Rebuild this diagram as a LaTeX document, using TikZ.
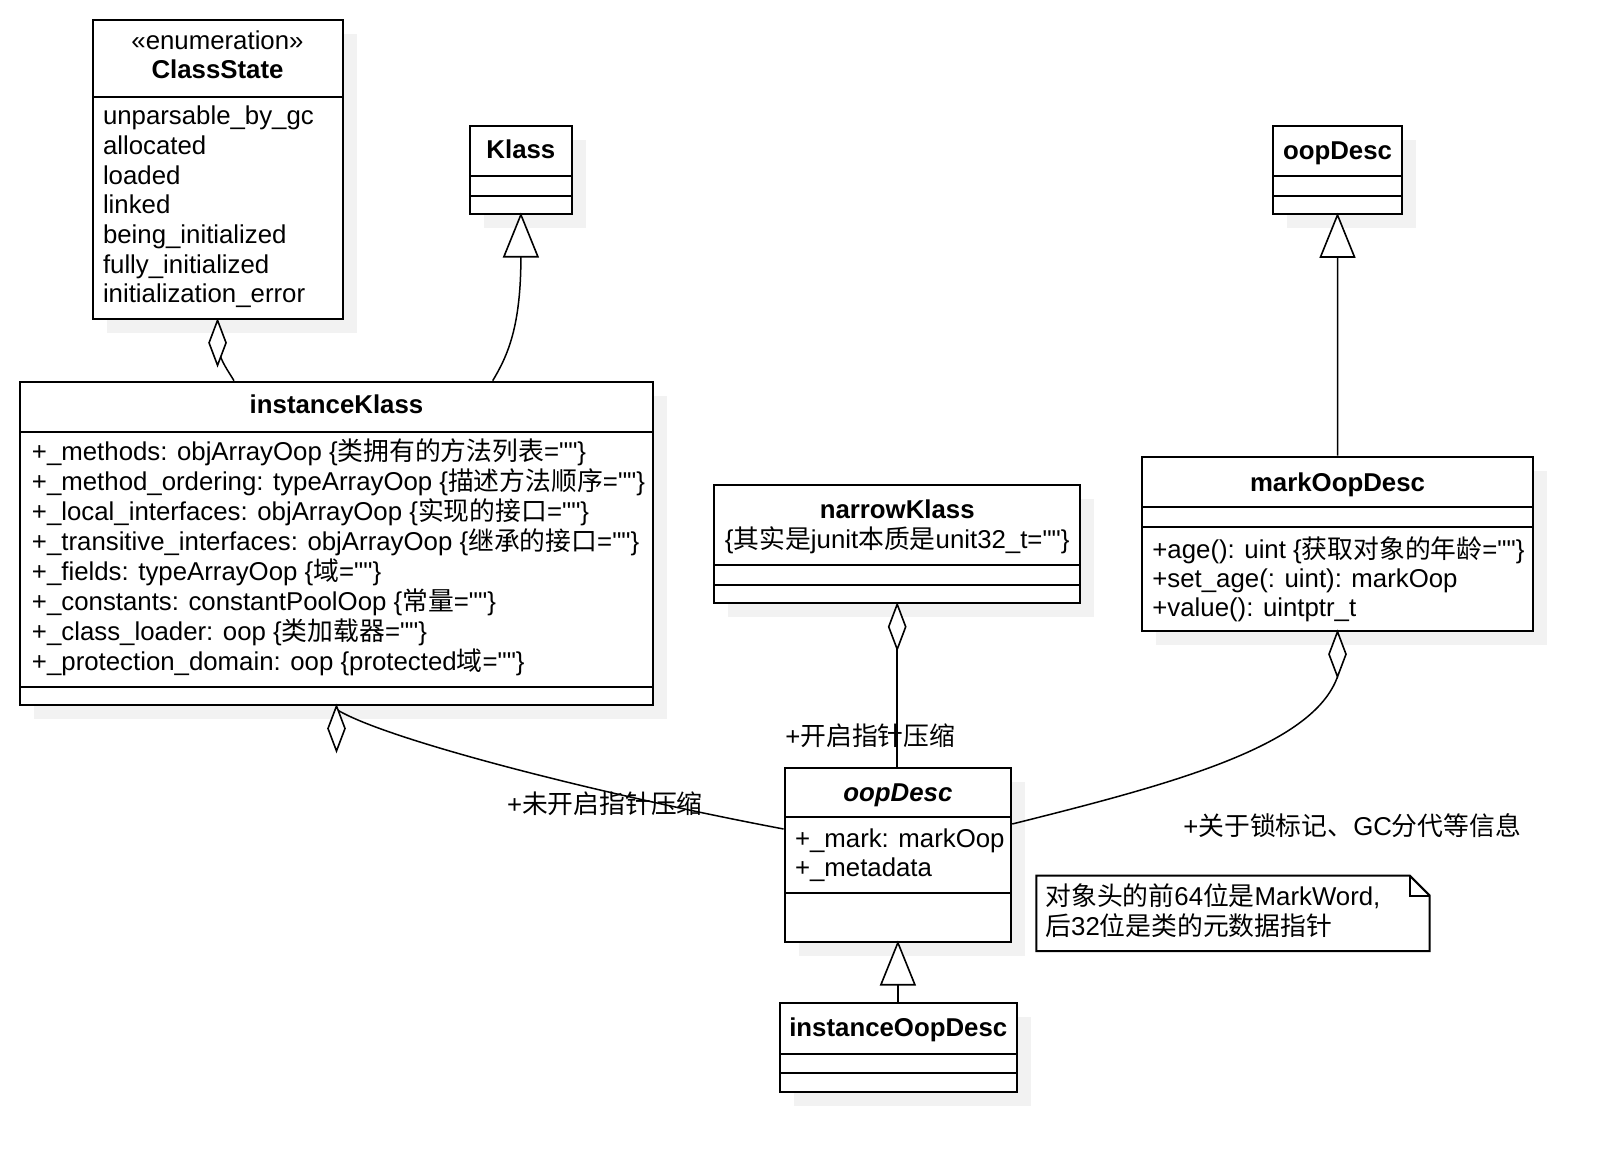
\documentclass[tikz,border=0pt]{standalone}
\usepackage{fontspec}
\newfontfamily\latin{Liberation Sans}
\newfontfamily\cjk{Noto Sans CJK SC}
\newcommand\zh[1]{{\cjk #1}}
\usetikzlibrary{fit}
\tikzset{
  x=0.5pt, y=-0.5pt,
  umlbox/.style={draw, line width=1pt, fill=white, inner sep=0pt},
  shadowbox/.style={fill=black!5},
  divider/.style={line width=1pt},
  conn/.style={line width=0.75pt},
  headtip/.style={draw, line width=0.8pt, fill=white, line join=miter},
  notebox/.style={draw, line width=1pt, fill=white},
  txt/.style={font=\latin\fontsize{12.9}{15}\selectfont, inner sep=0pt, anchor=base west},
  txtc/.style={txt, anchor=base},
  txtb/.style={txtc, font=\latin\bfseries\fontsize{12.9}{15}\selectfont},
  txtbi/.style={txtc, font=\latin\bfseries\itshape\fontsize{12.9}{15}\selectfont},
}
\begin{document}
\begin{tikzpicture}
\fill[white] (0,0) rectangle (1612,1172);
\useasboundingbox (0,0) rectangle (1612,1172);

% shadows
\foreach \a/\b/\c/\d in {92.6/20/342.5/319.3, 470/126/571.8/213.7, 1273.3/125.7/1401.7/214,
  19.8/381.7/653.2/705, 714.4/485/1080/603.3, 1142/456.7/1533/630.7,
  784.6/767.7/1011.2/941.7, 779.7/1002.7/1016.8/1091.7}
  \fill[shadowbox] (\a+14,\b+14) rectangle (\c+14,\d+14);

% ClassState
\node[umlbox, fit={(92.6,20) (342.5,319.3)}] (cs) {};
\draw[divider] (92.6,96.7) -- (342.5,96.7);
\node[txtc] (cs0) at (217.5,50) {«enumeration»};
\node[txtb] (cs1) at (217.5,78.5) {ClassState};
\node[txt] (cs2) at (102.6,125) {unparsable\_by\_gc};
\node[txt] (cs3) at (102.6,154.6) {allocated};
\node[txt] (cs4) at (102.6,184.2) {loaded};
\node[txt] (cs5) at (102.6,213.8) {linked};
\node[txt] (cs6) at (102.6,243.4) {being\_initialized};
\node[txt] (cs7) at (102.6,273) {fully\_initialized};
\node[txt] (cs8) at (102.6,302.6) {initialization\_error};

% Klass
\node[umlbox, fit={(470,126) (571.8,213.7)}] (kl) {};
\draw[divider] (470,175.7) -- (571.8,175.7);
\draw[divider] (470,196) -- (571.8,196);
\node[txtb] (klt) at (520.9,158.5) {Klass};

% oopDesc (top right)
\node[umlbox, fit={(1273.3,125.7) (1401.7,214)}] (odt) {};
\draw[divider] (1273.3,176) -- (1401.7,176);
\draw[divider] (1273.3,196) -- (1401.7,196);
\node[txtb] (odtt) at (1337.5,160) {oopDesc};

% instanceKlass
\node[umlbox, fit={(19.8,381.7) (653.2,705)}] (ik) {};
\draw[divider] (19.8,431.7) -- (653.2,431.7);
\draw[divider] (19.8,687.3) -- (653.2,687.3);
\node[txtb] (ikt) at (336.5,413.5) {instanceKlass};
\node[txt] (ik1) at (31.6,460) {+\_methods: objArrayOop \{\zh{类拥有的方法列表}=""\}};
\node[txt] (ik2) at (31.6,490) {+\_method\_ordering: typeArrayOop \{\zh{描述方法顺序}=""\}};
\node[txt] (ik3) at (31.6,520) {+\_local\_interfaces: objArrayOop \{\zh{实现的接口}=""\}};
\node[txt] (ik4) at (31.6,550) {+\_transitive\_interfaces: objArrayOop \{\zh{继承的接口}=""\}};
\node[txt] (ik5) at (31.6,580) {+\_fields: typeArrayOop \{\zh{域}=""\}};
\node[txt] (ik6) at (31.6,610) {+\_constants: constantPoolOop \{\zh{常量}=""\}};
\node[txt] (ik7) at (31.6,640) {+\_class\_loader: oop \{\zh{类加载器}=""\}};
\node[txt] (ik8) at (31.6,670) {+\_protection\_domain: oop \{protected\zh{域}=""\}};

% narrowKlass
\node[umlbox, fit={(714.4,485) (1080,603.3)}] (nk) {};
\draw[divider] (714.4,565) -- (1080,565);
\draw[divider] (714.4,585) -- (1080,585);
\node[txtb] (nkt) at (897.2,518.5) {narrowKlass};
\node[txtc] (nk1) at (897.2,548.5) {\{\zh{其实是}junit\zh{本质是}unit32\_t=""\}};

% markOopDesc
\node[umlbox, fit={(1142,456.7) (1533,630.7)}] (mk) {};
\draw[divider] (1142,506.7) -- (1533,506.7);
\draw[divider] (1142,527.3) -- (1533,527.3);
\node[txtb] (mkt) at (1337.5,491) {markOopDesc};
\node[txt] (mk1) at (1152,558.5) {+age(): uint \{\zh{获取对象的年龄}=""\}};
\node[txt] (mk2) at (1152,587.8) {+set\_age(: uint): markOop};
\node[txt] (mk3) at (1152,616.8) {+value(): uintptr\_t};

% oopDesc (center)
\node[umlbox, fit={(784.6,767.7) (1011.2,941.7)}] (od) {};
\draw[divider] (784.6,817.3) -- (1011.2,817.3);
\draw[divider] (784.6,893.3) -- (1011.2,893.3);
\node[txtbi] (odt1) at (897.9,801.8) {oopDesc};
\node[txt] (od1) at (794.6,847.8) {+\_mark: markOop};
\node[txt] (od2) at (794.6,876.8) {+\_metadata};

% instanceOopDesc
\node[umlbox, fit={(779.7,1002.7) (1016.8,1091.7)}] (io) {};
\draw[divider] (779.7,1054) -- (1016.8,1054);
\draw[divider] (779.7,1073.3) -- (1016.8,1073.3);
\node[txtb] (iot) at (898.25,1036.8) {instanceOopDesc};

% note
\node[fit={(1036.7,876) (1429.3,950.7)}, inner sep=0pt] (note) {};
\draw[notebox] (note.north west) -- ([shift={(-20,0)}]note.north east)
  -- ([shift={(0,20)}]note.north east) -- (note.south east) -- (note.south west) -- cycle;
\draw[line width=1pt] ([shift={(-20,0)}]note.north east) -- ([shift={(-20,20)}]note.north east)
  -- ([shift={(0,20)}]note.north east);
\node[txt] (n1) at (1045,905) {\zh{对象头的前}64\zh{位是}MarkWord,};
\node[txt] (n2) at (1045,935) {\zh{后}32\zh{位是类的元数据指针}};

% connectors
\draw[conn] ([shift={(1,30)}]cs.south) .. controls +(3,12) and +(-6,-10) .. ([shift={(215.2,0)}]ik.north west);
\draw[conn] ([shift={(0,42)}]kl.south) .. controls +(0,70) and +(15,-25) .. ([shift={(473.9,0)}]ik.north west);
\draw[conn] ([shift={(0,42)}]odt.south) -- (mk.north);
\draw[conn] ([shift={(0,45)}]nk.south) -- (nk.south |- od.north);
\draw[conn] ([shift={(1,4)}]ik.south) .. controls +(50,30) and +(-185,-35) .. ([shift={(0,62.3)}]od.north west);
\draw[conn] ([shift={(0,45)}]mk.south) .. controls +(-25,70) and +(160,-40) .. ([shift={(0,57.3)}]od.north east);
\draw[conn] ([shift={(0,42)}]od.south) -- (od.south |- io.north);

% heads
\draw[headtip] (cs.south) -- ++(8.5,22.5) -- ++(-8.5,22.5) -- ++(-8.5,-22.5) -- cycle;
\draw[headtip] (ik.south) -- ++(8.5,22.5) -- ++(-8.5,22.5) -- ++(-8.5,-22.5) -- cycle;
\draw[headtip] (nk.south) -- ++(8.5,22.5) -- ++(-8.5,22.5) -- ++(-8.5,-22.5) -- cycle;
\draw[headtip] (mk.south) -- ++(8.5,22.5) -- ++(-8.5,22.5) -- ++(-8.5,-22.5) -- cycle;
\draw[headtip] (kl.south) -- ++(17,42) -- ++(-34,0) -- cycle;
\draw[headtip] (odt.south) -- ++(17,42) -- ++(-34,0) -- cycle;
\draw[headtip] (od.south) -- ++(17,42) -- ++(-34,0) -- cycle;

% labels
\node[txt] (l1) at (785,745) {+\zh{开启指针压缩}};
\node[txt] (l2) at (506.7,813) {+\zh{未开启指针压缩}};
\node[txt] (l3) at (1183,835) {+\zh{关于锁标记、}GC\zh{分代等信息}};
\end{tikzpicture}
\end{document}
